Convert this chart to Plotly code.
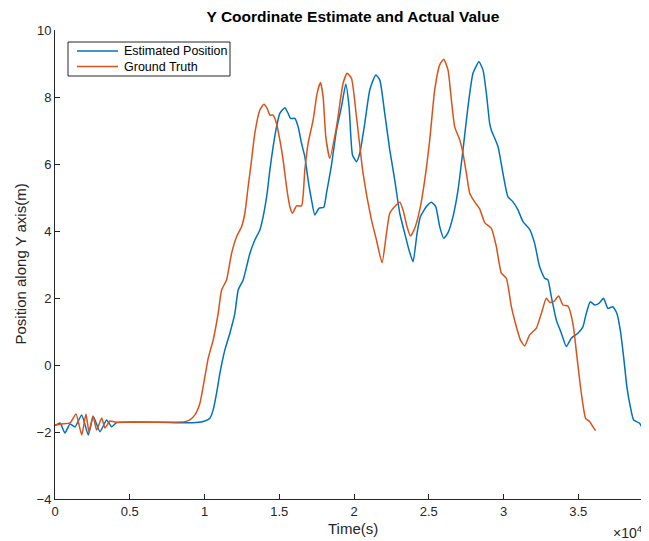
import plotly.graph_objects as go

# Ground truth (orange)
gt_t = [0, 468, 1003, 1404, 1785, 2072, 2273, 2540, 2787, 3121, 3342, 3676, 4010,
        8689, 9023, 9358, 9692, 10026, 10246, 10581, 10915, 11142, 11476, 11811, 12145,
        12479, 12700, 12920, 13148, 13368, 13703, 13970, 14190, 14371, 14591, 14819,
        15039, 15260, 15487, 15707, 15888, 16155, 16490, 16710, 16931, 17265, 17532,
        17759, 17933, 18114, 18381, 18829, 19270, 19537, 19831, 20165, 20607, 21168,
        21502, 21877, 22171, 22391, 22726, 23060, 23280, 23548, 23775, 24062, 24397,
        24731, 25065, 25399, 25733, 26001, 26288, 26515, 26736, 27070, 27291, 27518,
        27739, 28073, 28407, 28741, 29189, 29523, 29857, 30191, 30526, 30860, 31127,
        31415, 31749, 32197, 32531, 32865, 33086, 33353, 33687, 33975, 34309, 34643,
        34911, 35205, 35492, 35759, 35980, 36160]
gt_y = [-1.79, -1.76, -1.73, -1.46, -2.09, -1.46, -2.00, -1.52, -1.94, -1.58, -1.88, -1.67, -1.70,
        -1.69, -1.64, -1.49, -1.14, -0.35, 0.20, 0.75, 1.54, 2.24, 2.54, 3.33, 3.83,
        4.13, 4.53, 5.32, 6.12, 6.92, 7.61, 7.78, 7.66, 7.46, 7.46, 7.21,
        6.72, 6.12, 5.32, 4.73, 4.53, 4.75, 4.75, 5.82, 6.62, 7.31, 8.11,
        8.43, 8.01, 6.81, 6.17, 7.11, 8.41, 8.71, 8.56, 7.41, 5.72, 4.33,
        3.73, 3.05, 3.93, 4.53, 4.73, 4.86, 4.63, 4.13, 3.85, 4.08, 4.63,
        5.52, 6.72, 8.21, 8.96, 9.13, 8.81, 7.91, 7.11, 6.72, 6.32, 5.72,
        5.13, 4.87, 4.66, 4.25, 4.08, 3.53, 2.74, 2.59, 1.74, 1.14, 0.75,
        0.57, 0.90, 1.10, 1.54, 1.99, 1.87, 1.89, 2.06, 1.79, 1.76, 1.24,
        0.25, -0.84, -1.59, -1.69, -1.84, -1.96]

# Estimated position (blue)
est_t = [0, 334, 668, 1003, 1337, 1785, 2226, 2560, 3008, 3456, 3790, 4124,
         9471, 10026, 10360, 10581, 10808, 11029, 11363, 11697, 12031, 12252, 12586,
         12813, 13034, 13368, 13703, 13923, 14190, 14371, 14591, 14819, 15039, 15373,
         15594, 15754, 16042, 16262, 16490, 16710, 16931, 17158, 17378, 17666, 17980,
         18160, 18494, 18829, 19163, 19450, 19671, 19898, 20165, 20386, 20720, 21055,
         21456, 21723, 22057, 22391, 22726, 23060, 23394, 23682, 23949, 24217, 24444,
         24845, 25179, 25466, 25733, 26001, 26288, 26622, 26957, 27291, 27625, 27959,
         28360, 28627, 28855, 29075, 29189, 29630, 29964, 30299, 30633, 30967, 31301,
         31749, 32083, 32417, 32752, 32972, 33199, 33534, 33868, 34202, 34536, 34977,
         35311, 35538, 35806, 36094, 36381, 36695, 36983, 37317, 37585, 37812, 38032,
         38253, 38481, 38701, 39102, 39436, 39656]
est_y = [-1.81, -1.73, -2.03, -1.76, -1.85, -1.49, -2.09, -1.54, -1.99, -1.64, -1.84, -1.72,
         -1.72, -1.67, -1.59, -1.34, -0.84, -0.25, 0.45, 0.95, 1.54, 2.24, 2.54,
         2.93, 3.33, 3.73, 4.03, 4.43, 5.13, 5.82, 6.52, 7.11, 7.51, 7.68,
         7.51, 7.36, 7.36, 7.11, 6.62, 6.22, 5.52, 4.93, 4.48, 4.68, 4.71,
         5.13, 5.97, 7.01, 7.71, 8.38, 7.71, 6.27, 6.07, 6.32, 7.21, 8.21,
         8.66, 8.51, 7.51, 6.42, 5.52, 4.53, 3.93, 3.43, 3.08, 3.93, 4.43,
         4.73, 4.86, 4.73, 4.13, 3.78, 3.95, 4.43, 5.22, 6.42, 7.71, 8.71,
         9.05, 8.81, 8.11, 7.21, 7.01, 6.52, 5.72, 5.02, 4.87, 4.63, 4.28,
         4.05, 3.63, 2.93, 2.59, 2.54, 2.04, 1.34, 0.95, 0.55, 0.80, 0.95,
         1.14, 1.54, 1.89, 1.79, 1.84, 1.99, 1.69, 1.74, 1.54, 1.04, 0.25,
         -0.65, -1.24, -1.64, -1.74, -1.99, -1.94]

series_names = ["Estimated Position", "Ground Truth"]
series_colors = ["#0072BD", "#D95319"]
x_tickvals = [0, 5000, 10000, 15000, 20000, 25000, 30000, 35000, 40000]
x_ticktext = ["0", "0.5", "1", "1.5", "2", "2.5", "3", "3.5", "4"]
y_tickvals = [-4, -2, 0, 2, 4, 6, 8, 10]

fig = go.Figure()
for t, v, name, col in zip([est_t, gt_t], [est_y, gt_y], series_names, series_colors):
    fig.add_trace(go.Scatter(x=t, y=v, mode="lines", name=name, showlegend=False,
                             line=dict(color=col, width=1.5, shape="spline", smoothing=0.5)))

axis_common = dict(showgrid=False, zeroline=False, showline=True, linecolor="#262626",
                   linewidth=1, ticks="inside", ticklen=5, tickcolor="#262626",
                   tickfont=dict(size=13, color="#262626"), mirror=False, automargin=False)

W, H = 645, 533
L, T, B = 47, 22, 42
PW, PH = W - L, H - T - B
OFF = 8  # page offset of the figure


def px(page_x):
    return (page_x - OFF - L) / PW


def py(page_y):
    return 1 - (page_y - OFF - T) / PH


fig.update_layout(
    width=W, height=H,
    margin=dict(l=L, r=0, t=T, b=B, autoexpand=False),
    paper_bgcolor="white", plot_bgcolor="white",
    font=dict(family="Liberation Sans, Arial, sans-serif", color="#262626"),
    title=dict(text="<b>Y Coordinate Estimate and Actual Value</b>", x=(353 - OFF) / W,
               xanchor="center", xref="container", y=1 - 9 / H, yref="container",
               yanchor="middle", font=dict(size=15.5, color="black")),
    xaxis=dict(range=[0, 40000], tickvals=x_tickvals, ticktext=x_ticktext, **axis_common),
    yaxis=dict(range=[-4, 10], tickvals=y_tickvals, **axis_common),
    showlegend=False,
)

# Legend box (MATLAB style)
fig.add_shape(type="rect", xref="paper", yref="paper", x0=px(68), x1=px(230), y0=py(76), y1=py(42),
              line=dict(color="#262626", width=1), fillcolor="white", layer="above")
for i, (name, col) in enumerate(zip(series_names, series_colors)):
    yy = 51 + 15.5 * i
    fig.add_shape(type="line", xref="paper", yref="paper", x0=px(77), x1=px(118),
                  y0=py(yy), y1=py(yy), line=dict(color=col, width=1.5), layer="above")
    fig.add_annotation(text=name, x=px(122), y=py(yy), xref="paper", yref="paper",
                       xanchor="left", yanchor="middle", showarrow=False,
                       font=dict(size=12.5, color="black"))

fig.add_annotation(text="Time(s)", x=px(353), y=py(528), xref="paper", yref="paper",
                   xanchor="center", yanchor="middle", showarrow=False,
                   font=dict(size=15, color="#262626"))
fig.add_annotation(text="Position along Y axis(m)", x=px(20), y=0.5, xref="paper", yref="paper",
                   xanchor="center", yanchor="middle", showarrow=False, textangle=-90,
                   font=dict(size=15, color="#262626"))
fig.add_annotation(text="4", x=px(651), y=py(512), xref="paper", yref="paper",
                   xanchor="center", yanchor="middle", showarrow=False,
                   font=dict(size=13, color="#262626"))
fig.add_annotation(text="×10<sup>4</sup>", x=px(645), y=py(532), xref="paper", yref="paper",
                   xanchor="right", yanchor="middle", showarrow=False,
                   font=dict(size=14, color="#262626"))

fig.write_html("out.html")
